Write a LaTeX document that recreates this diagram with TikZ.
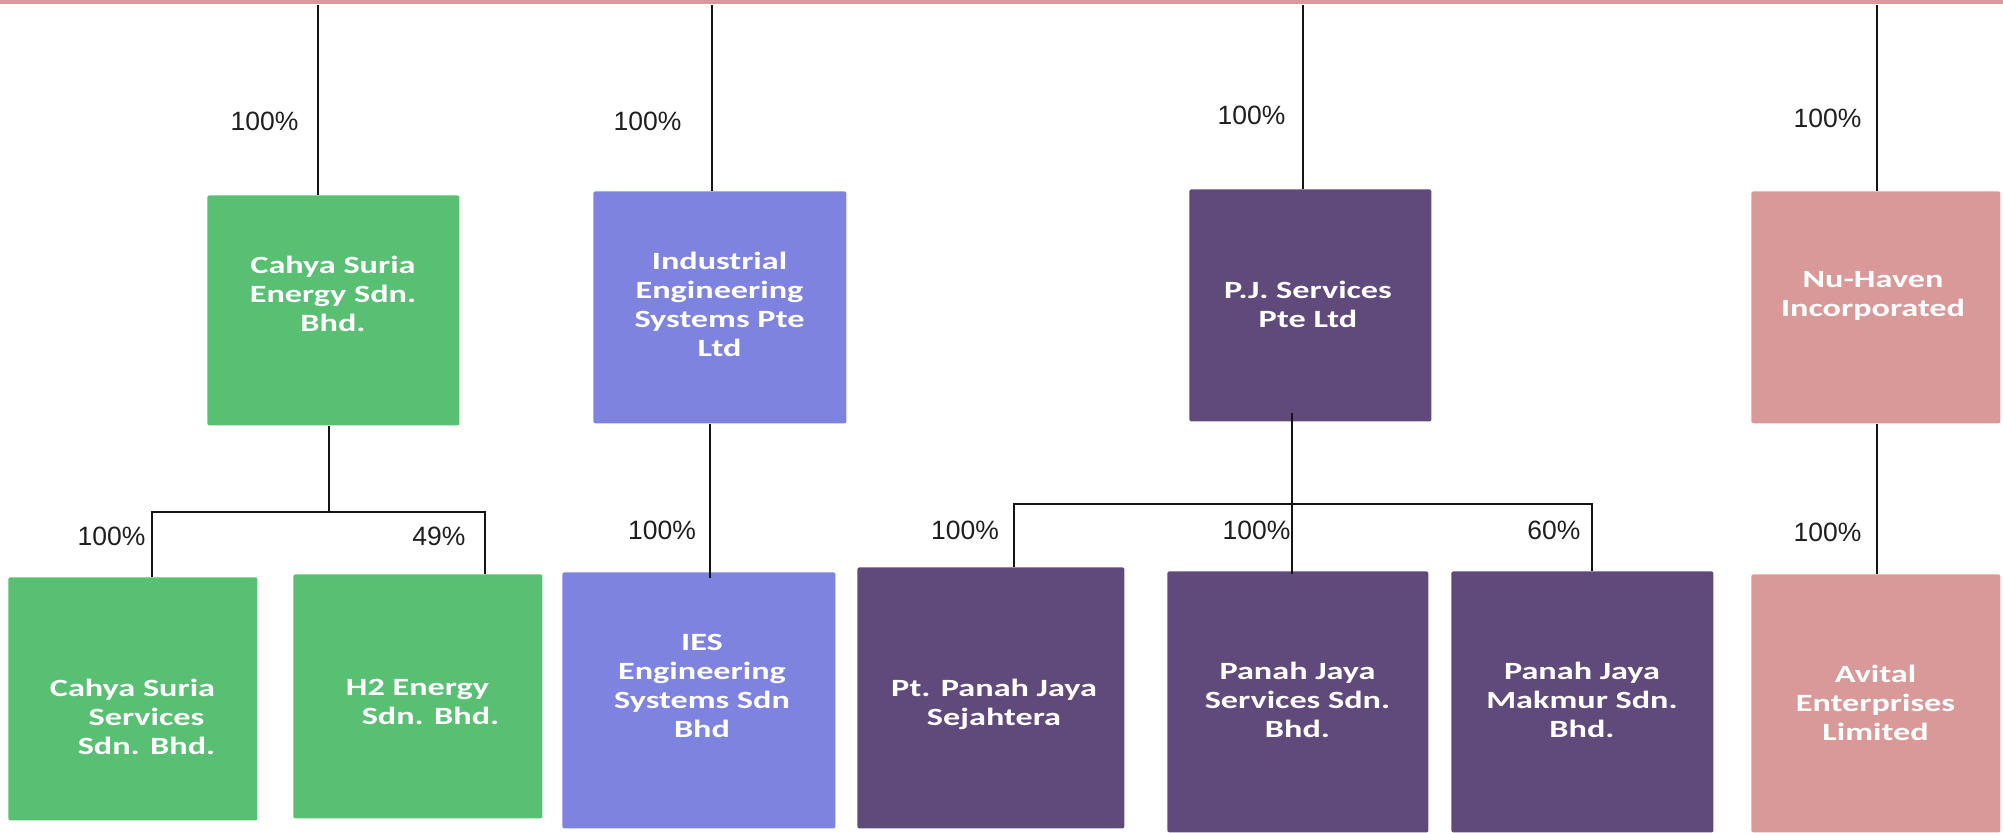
\documentclass[tikz,border=0pt]{standalone}
\usepackage{fontspec}
\setmainfont{Liberation Sans}
\newfontfamily\boxfont[FakeStretch=1.38]{Carlito}
\definecolor{csgreen}{HTML}{58BF73}
\definecolor{iesblue}{HTML}{7F83E0}
\definecolor{pjpurple}{HTML}{604A7B}
\definecolor{nhpink}{HTML}{D99999}
\begin{document}
\begin{tikzpicture}[x=0.5pt,y=-0.5pt,
  box/.style={draw=none, rounded corners=1pt, inner sep=0pt, anchor=north west},
  btext/.style={font=\boxfont\bfseries\fontsize{12.4}{14.5}\selectfont, text=white, align=center, inner sep=0pt},
  pct/.style={font=\fontsize{13.25}{15}\selectfont, text=black!88, inner sep=0pt},
  conn/.style={draw=black!92, line width=1.1pt}]
\useasboundingbox (0,0) rectangle (2003,832);
\fill[white] (0,0) rectangle (2003,832);
% top bar
\node[box, fill=nhpink, minimum width=1001.5pt, minimum height=2pt, rounded corners=0pt] (bar) at (0,0) {};

% boxes
\node[box, fill=csgreen, minimum width=126pt, minimum height=115pt] (cse) at (207,195) {};
\node[box, fill=iesblue, minimum width=126.5pt, minimum height=116pt] (iesp) at (593,191) {};
\node[box, fill=pjpurple, minimum width=121pt, minimum height=116pt] (pj) at (1189,189) {};
\node[box, fill=nhpink, minimum width=124.5pt, minimum height=116pt] (nh) at (1751,191) {};
\node[box, fill=csgreen, minimum width=124.5pt, minimum height=121.5pt] (css) at (8,577) {};
\node[box, fill=csgreen, minimum width=124.5pt, minimum height=122pt] (h2) at (293,574) {};
\node[box, fill=iesblue, minimum width=136.5pt, minimum height=128pt] (iess) at (562,572) {};
\node[box, fill=pjpurple, minimum width=133.5pt, minimum height=130.5pt] (ptp) at (857,567) {};
\node[box, fill=pjpurple, minimum width=130.5pt, minimum height=130.5pt] (pjs) at (1167,571) {};
\node[box, fill=pjpurple, minimum width=131pt, minimum height=130.5pt] (pjm) at (1451,571) {};
\node[box, fill=nhpink, minimum width=124.5pt, minimum height=129pt] (av) at (1751,574) {};

% box texts
\node[btext] (cse-t) at (333,294) {Cahya Suria\\Energy Sdn.\\Bhd.};
\node[btext] (iesp-t) at (719.5,304) {Industrial\\Engineering\\Systems Pte\\Ltd};
\node[btext] (pj-t) at (1308,304) {P.J. Services\\Pte Ltd};
\node[btext] (nh-t) at (1873,296) {Nu-Haven\\Incorporated};
\node[btext] (css-t) at (132.5,717) {Cahya Suria\\\hspace*{14pt}Services\\\hspace*{14pt}Sdn. Bhd.};
\node[btext] (h2-t) at (417.5,702) {H2 Energy\\\hspace*{13pt}Sdn. Bhd.};
\node[btext] (iess-t) at (702,686) {IES\\Engineering\\Systems Sdn\\Bhd};
\node[btext] (ptp-t) at (994,704) {Pt. Panah Jaya\\Sejahtera};
\node[btext] (pjs-t) at (1297.5,700) {Panah Jaya\\Services Sdn.\\Bhd.};
\node[btext] (pjm-t) at (1582,700) {Panah Jaya\\Makmur Sdn.\\Bhd.};
\node[btext] (av-t) at (1875.5,703) {Avital\\Enterprises\\Limited};

% connector points
\coordinate (c1) at (318,0);
\coordinate (c2) at (712,0);
\coordinate (c3) at (1303,0);
\coordinate (c4) at (1877,0);
\coordinate (d1) at (329,512);
\coordinate (b1l) at (152,512);
\coordinate (b1r) at (485,512);
\coordinate (d2) at (710,0);
\coordinate (d3top) at (1292,413);
\coordinate (b3l) at (1014,504);
\coordinate (b3r) at (1592,504);

% connectors
\draw[conn] (c1 |- bar.south) -- (c1 |- cse.north);
\draw[conn] (c2 |- bar.south) -- (c2 |- iesp.north);
\draw[conn] (c3 |- bar.south) -- (c3 |- pj.north);
\draw[conn] (c4 |- bar.south) -- (c4 |- nh.north);

\draw[conn] (d1 |- cse.south) -- (d1);
\draw[conn] (b1l |- css.north) -- (b1l) -- (b1r) -- (b1r |- h2.north);

\draw[conn] (d2 |- iesp.south) -- ([yshift=-3pt]d2 |- iess.north);

\draw[conn] (d3top) -- ([yshift=-1.5pt]d3top |- pjs.north);
\draw[conn] (b3l |- ptp.north) -- (b3l) -- (b3r) -- (b3r |- pjm.north);

\draw[conn] (c4 |- nh.south) -- (c4 |- av.north);

% percentages
\node[pct] (p1) at (264.5,121) {100\%};
\node[pct] (p2) at (647.5,121) {100\%};
\node[pct] (p3) at (1251.5,115) {100\%};
\node[pct] (p4) at (1827.5,118) {100\%};
\node[pct] (p5) at (111.5,536) {100\%};
\node[pct] (p6) at (439,536) {49\%};
\node[pct] (p7) at (662,530) {100\%};
\node[pct] (p8) at (965,530) {100\%};
\node[pct] (p9) at (1256.5,530) {100\%};
\node[pct] (p10) at (1554,530) {60\%};
\node[pct] (p11) at (1827.5,532) {100\%};
\end{tikzpicture}
\end{document}
